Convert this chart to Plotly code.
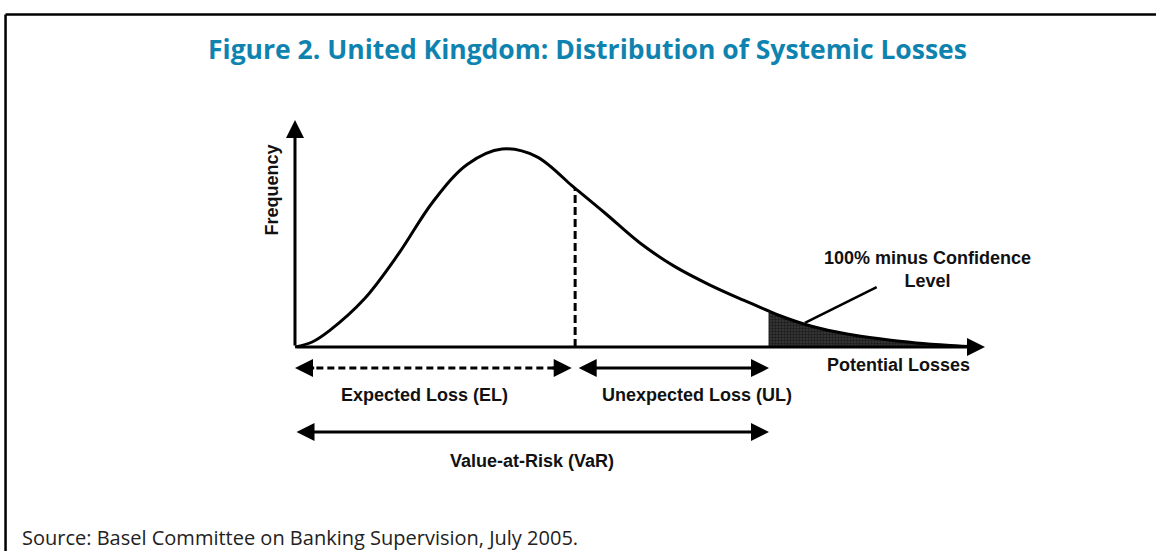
import plotly.graph_objects as go

# ---------------- data ----------------
loss = [0, 0.25, 0.5, 1.0, 1.5, 2.0, 2.5, 3.0, 3.5, 4.0, 4.06, 4.5, 5.0, 5.5,
        6.0, 6.5, 6.87, 7.0, 7.5, 8.0, 8.5, 9.0, 9.5, 9.9]
freq = [0, 0.022, 0.072, 0.21, 0.41, 0.64, 0.805, 0.872, 0.839, 0.714, 0.699,
        0.588, 0.458, 0.355, 0.275, 0.206, 0.158, 0.141, 0.090, 0.057, 0.035,
        0.018, 0.007, 0.001]
expected_loss = 4.06      # mean of the distribution (EL)
var_level = 6.87          # Value-at-Risk threshold
axis_end_x = 10.0         # end of the "Potential Losses" axis
axis_end_y = 1.0          # end of the "Frequency" axis

labels = {
    "freq": "Frequency",
    "tail": "100% minus Confidence<br>Level",
    "losses": "Potential Losses",
    "el": "Expected Loss (EL)",
    "ul": "Unexpected Loss (UL)",
    "var": "Value-at-Risk (VaR)",
}
title_text = "Figure 2. United Kingdom: Distribution of Systemic Losses"
source_text = "Source: Basel Committee on Banking Supervision, July 2005."

# ---------------- derived ----------------
el_freq = freq[loss.index(expected_loss)]
tail_x = [v for v in loss if v >= var_level]
tail_y = [f for v, f in zip(loss, freq) if v >= var_level]

BLACK = "#000000"
LBL = dict(family="Liberation Sans, Arial", size=18, color="#111111", weight="bold")
SMOOTH = 1.0

fig = go.Figure()

# shaded tail (100% - confidence level)
fig.add_trace(go.Scatter(
    x=tail_x, y=tail_y, mode="lines",
    line=dict(width=0, shape="spline", smoothing=SMOOTH),
    fill="tozeroy", fillcolor="#222222",
    fillpattern=dict(shape=".", fgcolor="#000000", bgcolor="#3a3a3a", size=3, solidity=0.5),
    hoverinfo="skip", showlegend=False))

# loss distribution curve
fig.add_trace(go.Scatter(
    x=loss, y=freq, mode="lines",
    line=dict(color=BLACK, width=3, shape="spline", smoothing=SMOOTH),
    hoverinfo="skip", showlegend=False))

shapes = [
    # dashed EL marker
    dict(type="line", xref="x", yref="y", x0=expected_loss, x1=expected_loss, y0=0, y1=el_freq,
         line=dict(color=BLACK, width=3, dash="8px,4px")),
    # vertical edge of tail
    dict(type="line", xref="x", yref="y", x0=var_level, x1=var_level, y0=0, y1=tail_y[0],
         line=dict(color="#222222", width=1)),
    # pointer to the tail
    dict(type="line", xref="x", yref="y", x0=7.39, y0=0.106, x1=8.43, y1=0.264,
         line=dict(color=BLACK, width=2.5)),
    # dashed EL arrow shaft
    dict(type="line", xref="x", yref="y", x0=0.15, x1=expected_loss - 0.15, y0=-0.093, y1=-0.093,
         line=dict(color=BLACK, width=3, dash="7px,4px")),
    # frame
    dict(type="line", xref="paper", yref="paper", x0=0.0048, x1=0.0048, y0=0, y1=0.9735,
         line=dict(color=BLACK, width=2.5)),
    dict(type="line", xref="paper", yref="paper", x0=0.0048, x1=1.0, y0=0.9735, y1=0.9735,
         line=dict(color=BLACK, width=2.5)),
]

def arrow(x_tip, y_tip, x_tail, y_tail, both=False):
    return dict(x=x_tip, y=y_tip, ax=x_tail, ay=y_tail, xref="x", yref="y",
                axref="x", ayref="y", text="", showarrow=True,
                arrowhead=2, startarrowhead=2, arrowsize=1.2, startarrowsize=1.2,
                arrowwidth=3, arrowcolor=BLACK,
                arrowside="end+start" if both else "end")

annotations = [
    arrow(0, axis_end_y, 0, 0),
    arrow(axis_end_x, 0, 0, 0),
    arrow(0, -0.093, 0.3, -0.093),
    arrow(expected_loss - 0.05, -0.093, expected_loss - 0.35, -0.093),
    arrow(var_level, -0.093, expected_loss + 0.03, -0.093, both=True),
    arrow(var_level, -0.374, 0, -0.374, both=True),
    dict(x=-0.33, y=0.69, xref="x", yref="y", text=labels["freq"], textangle=-90,
         showarrow=False, font=LBL),
    dict(x=9.17, y=0.34, xref="x", yref="y", text=labels["tail"], showarrow=False,
         align="center", font=LBL),
    dict(x=8.74, y=-0.079, xref="x", yref="y", text=labels["losses"], showarrow=False, font=LBL),
    dict(x=1.87, y=-0.211, xref="x", yref="y", text=labels["el"], showarrow=False, font=LBL),
    dict(x=5.83, y=-0.211, xref="x", yref="y", text=labels["ul"], showarrow=False, font=LBL),
    dict(x=3.43, y=-0.502, xref="x", yref="y", text=labels["var"], showarrow=False, font=LBL),
    dict(x=0.508, y=0.911, xref="paper", yref="paper", text=title_text, showarrow=False,
         xanchor="center", yanchor="middle",
         font=dict(family="Open Sans", size=26.5, color="#0f83b0", weight="bold")),
    dict(x=0.0173, y=0.0254, xref="paper", yref="paper", text=source_text, showarrow=False,
         xanchor="left", yanchor="middle",
         font=dict(family="Open Sans", size=20, color="#222222")),
]

fig.update_layout(
    width=1156, height=551,
    margin=dict(l=0, r=0, t=0, b=0),
    paper_bgcolor="white", plot_bgcolor="white",
    xaxis=dict(range=[-4.275, 12.478], visible=False, fixedrange=True),
    yaxis=dict(range=[-0.8987, 1.5286], visible=False, fixedrange=True),
    shapes=shapes, annotations=annotations,
    showlegend=False,
)

fig.write_html("out.html",
               config={"displayModeBar": False, "staticPlot": True},
               post_script="document.body.style.margin='0';document.body.style.overflow='hidden';")
